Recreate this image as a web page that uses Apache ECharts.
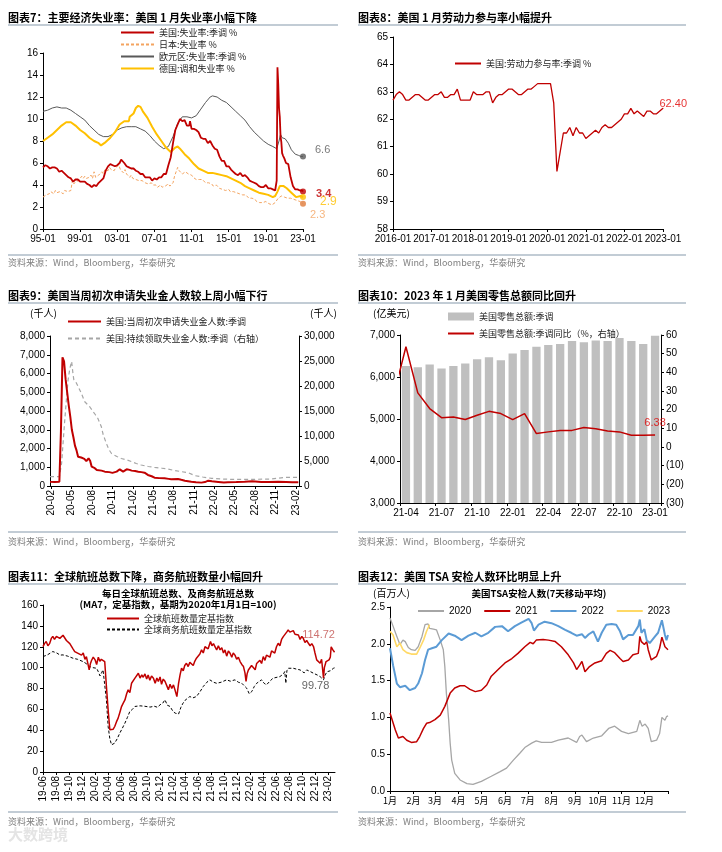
<!DOCTYPE html>
<html><head><meta charset="utf-8">
<script src="https://cdn.jsdelivr.net/npm/echarts@6/dist/echarts.min.js"></script>
<style>html,body{margin:0;padding:0;background:#fff}#c{width:722px;height:852px}</style>
</head><body><div id="c"></div>
<script>
// ---------------- Fig 7: unemployment rates ----------------
const fig7XLabels = ['95-01','99-01','03-01','07-01','11-01','15-01','19-01','23-01'];
const unemployUS = [['1995-01',5.6],['1995-04',5.8],['1995-07',5.7],['1995-10',5.5],['1996-01',5.6],['1996-04',5.6],['1996-07',5.5],['1996-10',5.2],['1997-01',5.3],['1997-04',5.1],['1997-07',4.9],['1997-10',4.7],['1998-01',4.6],['1998-04',4.3],['1998-07',4.5],['1998-10',4.5],['1999-01',4.3],['1999-04',4.3],['1999-07',4.3],['1999-10',4.1],['2000-01',4.0],['2000-04',3.8],['2000-07',4.0],['2000-10',3.9],['2001-01',4.2],['2001-04',4.4],['2001-07',4.6],['2001-10',5.3],['2002-01',5.7],['2002-04',5.9],['2002-07',5.8],['2002-10',5.7],['2003-01',5.8],['2003-04',6.0],['2003-06',6.3],['2003-07',6.2],['2003-10',6.0],['2004-01',5.7],['2004-04',5.6],['2004-07',5.5],['2004-10',5.5],['2005-01',5.3],['2005-04',5.2],['2005-07',5.0],['2005-10',5.0],['2006-01',4.7],['2006-04',4.7],['2006-07',4.7],['2006-10',4.4],['2007-01',4.6],['2007-04',4.5],['2007-07',4.7],['2007-10',4.7],['2008-01',5.0],['2008-04',5.0],['2008-07',5.8],['2008-10',6.5],['2009-01',7.8],['2009-04',9.0],['2009-07',9.5],['2009-10',10.0],['2010-01',9.8],['2010-04',9.9],['2010-07',9.4],['2010-10',9.4],['2010-11',9.8],['2011-01',9.1],['2011-04',9.1],['2011-07',9.0],['2011-10',8.8],['2012-01',8.3],['2012-04',8.2],['2012-07',8.2],['2012-10',7.8],['2013-01',8.0],['2013-04',7.6],['2013-07',7.3],['2013-10',7.2],['2014-01',6.6],['2014-04',6.2],['2014-07',6.2],['2014-10',5.7],['2015-01',5.7],['2015-04',5.4],['2015-07',5.2],['2015-10',5.0],['2016-01',4.9],['2016-04',5.1],['2016-07',4.8],['2016-10',4.9],['2017-01',4.7],['2017-04',4.4],['2017-07',4.3],['2017-10',4.2],['2018-01',4.1],['2018-04',3.9],['2018-07',3.8],['2018-10',3.8],['2019-01',4.0],['2019-04',3.7],['2019-07',3.7],['2019-10',3.6],['2020-01',3.5],['2020-02',3.5],['2020-03',4.4],['2020-04',14.7],['2020-05',13.2],['2020-06',11.0],['2020-07',10.2],['2020-08',8.4],['2020-09',7.9],['2020-10',6.9],['2020-11',6.7],['2020-12',6.7],['2021-01',6.4],['2021-03',6.0],['2021-06',5.9],['2021-09',4.7],['2021-12',3.9],['2022-03',3.6],['2022-06',3.6],['2022-09',3.5],['2022-12',3.5],['2023-01',3.4]];
const unemployJP = [['1995-01',2.9],['1995-03',3.0],['1995-05',3.1],['1995-07',3.2],['1995-09',3.2],['1995-11',3.4],['1996-01',3.3],['1996-03',3.2],['1996-05',3.5],['1996-07',3.3],['1996-09',3.2],['1996-11',3.4],['1997-01',3.3],['1997-03',3.2],['1997-05',3.5],['1997-07',3.4],['1997-09',3.4],['1997-11',3.5],['1998-01',3.5],['1998-03',4.4],['1998-05',4.1],['1998-07',4.3],['1998-09',4.3],['1998-11',4.4],['1999-01',4.5],['1999-03',4.8],['1999-05',4.6],['1999-07',4.8],['1999-09',4.6],['1999-11',4.6],['2000-01',4.7],['2000-03',4.9],['2000-05',4.6],['2000-07',5.2],['2000-09',4.7],['2000-11',4.8],['2001-01',4.9],['2001-03',4.8],['2001-05',5.2],['2001-07',5.0],['2001-09',5.4],['2001-11',5.4],['2002-01',5.3],['2002-03',5.6],['2002-05',5.4],['2002-07',5.5],['2002-09',5.3],['2002-11',5.6],['2003-01',5.5],['2003-03',5.8],['2003-05',5.4],['2003-07',5.3],['2003-09',5.1],['2003-11',5.4],['2004-01',5.0],['2004-03',4.9],['2004-05',4.7],['2004-07',4.9],['2004-09',4.6],['2004-11',4.6],['2005-01',4.5],['2005-03',4.6],['2005-05',4.4],['2005-07',4.3],['2005-09',4.4],['2005-11',4.5],['2006-01',4.2],['2006-03',4.3],['2006-05',4.1],['2006-07',4.1],['2006-09',4.2],['2006-11',4.0],['2007-01',4.0],['2007-03',4.0],['2007-05',3.8],['2007-07',3.7],['2007-09',4.0],['2007-11',3.8],['2008-01',3.9],['2008-03',3.9],['2008-05',4.0],['2008-07',4.1],['2008-09',3.9],['2008-11',4.0],['2009-01',4.2],['2009-03',4.8],['2009-05',5.2],['2009-07',5.6],['2009-09',5.3],['2009-11',5.2],['2010-01',5.0],['2010-03',5.1],['2010-05',5.2],['2010-07',5.1],['2010-09',5.0],['2010-11',5.0],['2011-01',4.9],['2011-03',4.7],['2011-05',4.6],['2011-07',4.5],['2011-09',4.4],['2011-11',4.5],['2012-01',4.6],['2012-03',4.5],['2012-05',4.4],['2012-07',4.2],['2012-09',4.3],['2012-11',4.2],['2013-01',4.2],['2013-03',4.1],['2013-05',3.9],['2013-07',3.8],['2013-09',4.0],['2013-11',3.9],['2014-01',3.7],['2014-03',3.6],['2014-05',3.6],['2014-07',3.7],['2014-09',3.5],['2014-11',3.5],['2015-01',3.6],['2015-03',3.4],['2015-05',3.3],['2015-07',3.4],['2015-09',3.3],['2015-11',3.3],['2016-01',3.2],['2016-03',3.2],['2016-05',3.1],['2016-07',3.1],['2016-09',3.0],['2016-11',3.1],['2017-01',3.0],['2017-03',2.8],['2017-05',2.9],['2017-07',2.8],['2017-09',2.8],['2017-11',2.7],['2018-01',2.5],['2018-03',2.5],['2018-05',2.4],['2018-07',2.5],['2018-09',2.4],['2018-11',2.5],['2019-01',2.5],['2019-03',2.4],['2019-05',2.3],['2019-07',2.3],['2019-09',2.2],['2019-11',2.3],['2020-01',2.4],['2020-03',2.5],['2020-05',2.8],['2020-07',2.9],['2020-09',3.0],['2020-11',3.0],['2021-01',2.9],['2021-03',2.8],['2021-05',2.8],['2021-07',2.8],['2021-09',2.8],['2021-11',2.7],['2022-01',2.7],['2022-03',2.6],['2022-05',2.6],['2022-07',2.5],['2022-09',2.5],['2022-11',2.5],['2023-01',2.3]];
const unemployEZ = [['1995-01',10.7],['1995-07',10.8],['1996-01',11.0],['1996-07',11.1],['1997-01',11.0],['1997-07',11.0],['1998-01',10.8],['1998-07',10.5],['1999-01',10.2],['1999-07',9.9],['2000-01',9.4],['2000-07',9.0],['2001-01',8.6],['2001-07',8.4],['2002-01',8.4],['2002-07',8.6],['2003-01',9.0],['2003-07',9.2],['2004-01',9.3],['2004-07',9.3],['2005-01',9.3],['2005-07',9.1],['2006-01',8.9],['2006-07',8.5],['2007-01',8.0],['2007-07',7.6],['2008-01',7.3],['2008-07',7.5],['2009-01',8.4],['2009-07',9.6],['2010-01',10.2],['2010-07',10.2],['2011-01',10.1],['2011-07',10.3],['2012-01',10.9],['2012-07',11.5],['2013-01',12.0],['2013-04',12.1],['2013-10',12.0],['2014-04',11.7],['2014-10',11.5],['2015-04',11.1],['2015-10',10.7],['2016-04',10.3],['2016-10',9.9],['2017-04',9.3],['2017-10',8.8],['2018-04',8.4],['2018-10',8.0],['2019-04',7.7],['2019-10',7.5],['2020-03',7.3],['2020-06',8.0],['2020-08',8.6],['2020-10',8.3],['2021-02',8.2],['2021-06',7.8],['2021-10',7.2],['2022-03',6.8],['2022-07',6.7],['2022-10',6.6],['2023-01',6.6]];
const unemployDE = [['1995-01',8.0],['1995-07',8.3],['1996-01',8.6],['1996-07',9.0],['1997-01',9.4],['1997-07',9.7],['1998-01',9.7],['1998-07',9.4],['1999-01',9.0],['1999-07',8.7],['2000-01',8.3],['2000-07',8.0],['2001-01',7.8],['2001-04',7.6],['2001-10',7.9],['2002-04',8.3],['2002-10',8.8],['2003-04',9.5],['2003-10',9.8],['2004-04',9.8],['2004-05',10.2],['2004-10',10.5],['2005-01',11.0],['2005-04',11.2],['2005-07',11.1],['2005-10',10.7],['2006-04',10.1],['2006-10',9.3],['2007-04',8.6],['2007-10',8.0],['2008-04',7.4],['2008-10',7.0],['2009-04',7.4],['2009-07',7.5],['2009-10',7.3],['2010-04',6.8],['2010-10',6.4],['2011-04',5.9],['2011-10',5.5],['2012-04',5.3],['2012-10',5.1],['2013-04',5.1],['2013-10',5.0],['2014-04',4.9],['2014-10',4.8],['2015-04',4.6],['2015-10',4.4],['2016-04',4.2],['2016-10',3.9],['2017-04',3.7],['2017-10',3.5],['2018-04',3.3],['2018-10',3.2],['2019-04',3.1],['2019-10',2.9],['2020-01',3.0],['2020-04',3.4],['2020-07',3.9],['2020-12',3.9],['2021-04',3.7],['2021-10',3.3],['2022-04',2.9],['2022-10',3.0],['2023-01',2.9]];

// ---------------- Fig 8: labour force participation ----------------
const lfprStart = [2016, 1];
const lfprValues = [62.7,62.9,63.0,62.9,62.7,62.7,62.8,62.9,62.9,62.8,62.7,62.7,
 62.8,62.9,62.9,63.0,62.8,62.8,62.9,62.9,63.1,62.7,62.7,62.7,
 62.7,63.0,62.9,62.9,62.9,63.0,63.0,62.6,62.8,62.9,62.9,63.0,
 63.1,63.1,63.0,62.9,62.9,63.0,63.1,63.1,63.2,63.3,63.3,63.3,
 63.3,63.3,62.6,60.1,60.8,61.5,61.5,61.7,61.4,61.7,61.5,61.5,
 61.3,61.4,61.5,61.6,61.5,61.7,61.8,61.7,61.7,61.8,61.9,62.0,
 62.2,62.2,62.4,62.2,62.3,62.2,62.1,62.3,62.3,62.2,62.2,62.3,
 62.4];

// ---------------- Fig 9: jobless claims ----------------
const fig9Ticks = ['2020-02-01','2020-05-01','2020-08-01','2020-11-01','2021-02-01','2021-05-01','2021-08-01','2021-11-01','2022-02-01','2022-05-01','2022-08-01','2022-11-01','2023-02-01'];
const claimsInitial = [['2020-01-25',220],['2020-02-15',215],['2020-03-07',225],['2020-03-14',2900],['2020-03-21',6860],['2020-03-28',6650],['2020-04-04',5700],['2020-04-11',5000],['2020-04-18',4300],['2020-04-25',3700],['2020-05-02',3000],['2020-05-09',2600],['2020-05-16',2150],['2020-05-23',1900],['2020-05-30',1560],['2020-06-13',1520],['2020-06-27',1450],['2020-07-06',1330],['2020-07-16',1475],['2020-07-23',1350],['2020-07-30',1030],['2020-08-06',1120],['2020-08-13',950],['2020-08-22',850],['2020-09-12',820],['2020-09-27',765],['2020-10-17',740],['2020-10-31',700],['2020-11-19',765],['2020-12-03',890],['2020-12-18',765],['2021-01-03',890],['2021-01-16',860],['2021-01-25',820],['2021-02-10',800],['2021-02-24',765],['2021-03-10',740],['2021-03-24',710],['2021-04-08',590],['2021-04-25',520],['2021-05-08',445],['2021-05-29',420],['2021-06-22',410],['2021-07-10',380],['2021-07-22',355],['2021-08-21',373],['2021-09-05',330],['2021-09-21',285],['2021-10-20',230],['2021-11-10',200],['2021-12-04',180],['2021-12-20',210],['2022-01-04',285],['2022-01-20',250],['2022-02-18',215],['2022-03-15',185],['2022-04-02',195],['2022-05-10',210],['2022-06-16',230],['2022-07-20',250],['2022-08-30',215],['2022-10-05',210],['2022-11-13',230],['2022-12-20',215],['2023-01-15',195],['2023-02-12',195]];
const claimsContinuing = [['2020-01-25',1870],['2020-03-07',1870],['2020-03-14',2100],['2020-03-17',4500],['2020-03-30',12500],['2020-04-08',17500],['2020-04-15',21200],['2020-04-23',23500],['2020-05-01',24900],['2020-05-07',22500],['2020-05-11',21200],['2020-05-20',20800],['2020-05-30',19900],['2020-06-14',18500],['2020-06-28',16900],['2020-07-13',16200],['2020-07-22',15800],['2020-08-05',14900],['2020-08-15',14300],['2020-08-27',13500],['2020-09-11',11900],['2020-09-20',10200],['2020-10-04',8500],['2020-10-15',7300],['2020-10-27',6500],['2020-11-20',5900],['2020-12-10',5500],['2021-01-05',5200],['2021-01-25',4870],['2021-02-15',4500],['2021-03-09',4200],['2021-04-10',3900],['2021-05-08',3730],['2021-06-10',3550],['2021-07-07',3400],['2021-08-05',3100],['2021-09-06',2870],['2021-10-05',2670],['2021-11-05',2070],['2021-12-10',1800],['2022-01-19',1530],['2022-03-01',1400],['2022-04-17',1330],['2022-07-16',1330],['2022-10-14',1400],['2022-12-13',1730],['2023-02-12',1730]];

// ---------------- Fig 10: retail sales ----------------
const retailMonths = ['21-04','21-05','21-06','21-07','21-08','21-09','21-10','21-11','21-12','22-01','22-02','22-03','22-04','22-05','22-06','22-07','22-08','22-09','22-10','22-11','22-12','23-01'];
const retailSales = [6260,6230,6300,6200,6260,6320,6420,6470,6400,6560,6640,6720,6760,6785,6860,6825,6870,6860,6930,6860,6785,6985];
// YoY starts one month earlier (2021-03); that first point is clipped by the axis
const retailYoy = [28.5,53.7,29.0,20.6,15.7,16.1,14.7,17.0,19.1,17.9,14.7,17.9,7.2,8.1,8.9,8.9,10.4,9.8,8.6,8.1,6.3,6.3,6.38];

// ---------------- Fig 11: flights ----------------
const fig11Ticks = ['2019-06-01','2019-08-01','2019-10-01','2019-12-01','2020-02-01','2020-04-01','2020-06-01','2020-08-01','2020-10-01','2020-12-01','2021-02-01','2021-04-01','2021-06-01','2021-08-01','2021-10-01','2021-12-01','2022-02-01','2022-04-01','2022-06-01','2022-08-01','2022-10-01','2022-12-01','2023-02-01'];
const flightsAll = [['2019-06-01',120.2],['2019-06-08',123],['2019-06-16',125],['2019-06-24',121],['2019-07-02',123],['2019-07-10',128],['2019-07-17',130],['2019-07-25',127],['2019-08-03',130],['2019-08-11',131],['2019-08-19',128],['2019-08-26',127],['2019-09-03',131],['2019-09-11',129.7],['2019-09-19',126],['2019-09-27',125],['2019-10-05',123],['2019-10-12',122],['2019-10-20',118],['2019-10-28',115.4],['2019-11-05',116],['2019-11-13',113.7],['2019-11-21',112],['2019-11-29',112],['2019-12-07',114],['2019-12-15',108],['2019-12-22',110.6],['2019-12-29',112],['2020-01-04',97.8],['2020-01-10',104],['2020-01-15',106.8],['2020-01-23',110],['2020-02-01',107.4],['2020-02-08',103],['2020-02-16',110],['2020-02-23',106],['2020-03-01',108],['2020-03-09',108.9],['2020-03-17',105.8],['2020-03-25',81.9],['2020-04-02',59.6],['2020-04-10',40.5],['2020-04-18',38.9],['2020-04-26',41],['2020-05-03',43.6],['2020-05-11',48],['2020-05-19',51.6],['2020-05-27',57],['2020-06-04',62.7],['2020-06-12',66],['2020-06-20',69],['2020-06-28',75],['2020-07-05',78.7],['2020-07-13',76],['2020-07-21',85],['2020-07-29',84],['2020-08-06',89.9],['2020-08-14',88],['2020-08-22',94.6],['2020-08-30',90],['2020-09-07',93],['2020-09-14',90.8],['2020-09-22',94],['2020-09-30',89],['2020-10-07',93],['2020-10-15',88],['2020-10-23',92],['2020-11-01',89.9],['2020-11-09',85],['2020-11-17',90],['2020-11-24',86.7],['2020-12-02',91],['2020-12-09',84],['2020-12-17',89],['2020-12-25',87],['2021-01-02',83],['2021-01-10',78.7],['2021-01-18',84],['2021-01-26',80],['2021-02-03',83.5],['2021-02-11',78],['2021-02-19',72.3],['2021-02-27',85],['2021-03-06',93],['2021-03-13',99.4],['2021-03-21',97],['2021-03-28',102],['2021-04-05',104.2],['2021-04-13',101],['2021-04-21',105],['2021-04-29',104.2],['2021-05-07',102],['2021-05-14',106],['2021-05-22',109],['2021-05-30',108],['2021-06-07',113],['2021-06-15',117],['2021-06-23',114],['2021-07-01',120],['2021-07-08',120.2],['2021-07-16',118],['2021-07-22',122],['2021-07-27',125],['2021-08-03',121],['2021-08-10',123],['2021-08-17',120.2],['2021-08-25',117],['2021-09-02',121],['2021-09-10',117],['2021-09-18',119],['2021-09-26',114],['2021-10-03',117],['2021-10-11',111],['2021-10-19',116],['2021-10-27',113.8],['2021-11-04',110],['2021-11-11',114],['2021-11-19',112],['2021-11-27',108],['2021-12-05',110],['2021-12-13',105.8],['2021-12-21',103],['2021-12-29',101],['2022-01-05',95],['2022-01-10',86.7],['2022-01-15',94],['2022-01-21',97.7],['2022-01-28',96],['2022-02-05',102],['2022-02-14',101],['2022-02-22',98],['2022-03-01',104],['2022-03-08',102.5],['2022-03-16',107],['2022-03-24',104],['2022-04-01',110.6],['2022-04-09',107],['2022-04-16',112],['2022-04-24',113.8],['2022-05-02',110],['2022-05-10',116],['2022-05-17',117],['2022-05-25',114],['2022-06-02',120],['2022-06-10',123.3],['2022-06-18',121],['2022-06-26',127],['2022-07-04',129.7],['2022-07-12',131],['2022-07-20',134],['2022-07-27',136],['2022-08-04',134],['2022-08-12',135],['2022-08-20',135.4],['2022-08-28',132],['2022-09-05',133],['2022-09-13',131.2],['2022-09-21',127],['2022-09-29',130],['2022-10-06',128],['2022-10-14',124],['2022-10-22',126],['2022-10-30',123.3],['2022-11-07',121],['2022-11-15',123],['2022-11-23',120.2],['2022-11-30',114],['2022-12-08',107.4],['2022-12-16',109],['2022-12-24',104.2],['2022-12-31',108],['2023-01-05',98],['2023-01-09',90],['2023-01-13',100],['2023-01-21',105.8],['2023-01-28',106],['2023-02-04',107.4],['2023-02-10',110],['2023-02-14',120],['2023-02-22',117],['2023-03-02',114.72]];
const flightsBiz = [['2019-06-01',110.6],['2019-06-20',112],['2019-07-17',115.4],['2019-08-05',114],['2019-08-20',112],['2019-09-03',112.2],['2019-09-25',111],['2019-10-20',109],['2019-11-10',108],['2019-12-06',105.8],['2019-12-20',104],['2020-01-07',101],['2020-01-20',100],['2020-02-08',99.4],['2020-02-16',96],['2020-02-24',92],['2020-03-02',95],['2020-03-09',97.8],['2020-03-17',96],['2020-03-25',69],['2020-04-02',43.6],['2020-04-10',32],['2020-04-18',26],['2020-04-25',25.5],['2020-05-03',27.7],['2020-05-15',32],['2020-05-27',37.3],['2020-06-08',42],['2020-06-20',46.9],['2020-07-01',52],['2020-07-13',58],['2020-07-25',60],['2020-08-06',62.8],['2020-08-30',63.4],['2020-09-20',63],['2020-10-16',62.2],['2020-11-05',63],['2020-11-20',62],['2020-12-02',64.4],['2020-12-15',66],['2020-12-25',69.2],['2021-01-05',64],['2021-01-18',62.8],['2021-02-01',58],['2021-02-11',56.4],['2021-02-27',55.5],['2021-03-10',62],['2021-03-20',66],['2021-04-05',70],['2021-04-21',72.3],['2021-05-05',71],['2021-05-22',72.3],['2021-06-08',77],['2021-06-23',81.9],['2021-07-10',86],['2021-07-24',88.3],['2021-08-10',86],['2021-08-25',85],['2021-09-15',86],['2021-10-11',88.3],['2021-10-28',87],['2021-11-19',88.3],['2021-12-05',86],['2021-12-21',85],['2022-01-13',80.3],['2022-01-25',75],['2022-02-06',77.1],['2022-02-18',82],['2022-03-01',85],['2022-03-24',88.3],['2022-04-05',85],['2022-04-16',83.5],['2022-05-02',87],['2022-05-17',89.9],['2022-06-18',91.4],['2022-07-05',94],['2022-07-11',96.2],['2022-07-16',85],['2022-07-21',97],['2022-07-27',99.4],['2022-08-20',99.4],['2022-09-05',98.5],['2022-09-21',97.8],['2022-10-10',95],['2022-10-22',97.8],['2022-11-10',96],['2022-11-23',94.6],['2022-12-10',93],['2022-12-24',91.4],['2023-01-09',88.3],['2023-01-17',93],['2023-01-25',96],['2023-02-10',97],['2023-02-25',99.4],['2023-03-02',99.78]];

// ---------------- Fig 12: TSA throughput (day of year, millions) ----------------
const monthLabels = ['1月','2月','3月','4月','5月','6月','7月','8月','9月','10月','11月','12月'];
const monthStarts = [0,31,59,90,120,151,181,212,243,273,304,334];
const tsa2020 = [[0,2.35],[4,2.24],[9,2.1],[13,1.99],[17,2.05],[20,2.03],[24,1.95],[28,1.92],[33,1.91],[37,1.96],[42,2.1],[46,2.26],[50,2.27],[52,2.21],[57,2.2],[61,2.19],[66,2.05],[70,1.92],[72,1.69],[74,1.33],[77,0.97],[79,0.65],[81,0.42],[85,0.24],[92,0.15],[101,0.10],[109,0.09],[120,0.13],[133,0.2],[144,0.26],[153,0.31],[162,0.42],[171,0.52],[177,0.59],[186,0.65],[192,0.68],[199,0.66],[212,0.66],[221,0.69],[234,0.72],[245,0.66],[249,0.74],[252,0.76],[258,0.67],[267,0.72],[278,0.75],[287,0.85],[295,0.88],[304,0.81],[313,0.78],[324,0.81],[328,0.96],[331,0.88],[335,0.91],[339,0.85],[343,0.67],[350,0.69],[354,0.78],[357,1.0],[361,0.96],[363,1.01],[365,1.02]];
const tsa2021 = [[0,1.06],[2,1.07],[7,0.83],[11,0.72],[17,0.74],[22,0.69],[28,0.66],[35,0.67],[39,0.74],[44,0.85],[48,0.92],[52,0.93],[59,0.97],[66,1.03],[72,1.15],[79,1.33],[85,1.40],[92,1.43],[98,1.43],[105,1.38],[112,1.35],[120,1.37],[127,1.44],[133,1.56],[142,1.65],[151,1.74],[160,1.80],[168,1.87],[177,1.96],[184,2.02],[188,2.0],[192,2.05],[201,2.06],[208,2.05],[217,2.03],[225,1.96],[234,1.85],[241,1.74],[245,1.65],[249,1.71],[252,1.76],[256,1.62],[258,1.60],[262,1.69],[269,1.74],[278,1.77],[284,1.87],[289,1.91],[295,1.88],[302,1.80],[306,1.76],[313,1.78],[319,1.85],[326,1.87],[328,2.1],[330,2.03],[334,1.99],[337,2.03],[339,1.92],[343,1.78],[350,1.83],[354,1.94],[357,2.09],[361,1.96],[365,1.92]];
const tsa2022 = [[0,1.94],[4,1.71],[9,1.46],[13,1.41],[20,1.43],[26,1.37],[33,1.40],[37,1.46],[42,1.60],[46,1.78],[50,1.92],[55,1.94],[61,1.96],[68,2.05],[77,2.14],[85,2.11],[94,2.05],[103,2.11],[112,2.15],[120,2.1],[129,2.15],[138,2.23],[147,2.24],[155,2.17],[164,2.24],[173,2.29],[182,2.34],[186,2.28],[189,2.18],[195,2.26],[203,2.30],[212,2.28],[221,2.24],[230,2.19],[238,2.15],[245,2.11],[252,2.13],[256,2.08],[261,2.13],[267,2.17],[273,2.03],[278,2.15],[284,2.26],[291,2.27],[297,2.26],[302,2.17],[306,2.06],[313,2.12],[319,2.12],[326,2.24],[328,2.33],[330,2.15],[334,2.2],[337,2.05],[341,2.01],[348,2.1],[352,2.15],[357,2.32],[361,2.12],[363,2.05],[365,2.12]];
const tsa2023 = [[0,2.17],[4,2.12],[9,1.96],[13,2.01],[17,1.92],[22,1.88],[28,1.86],[35,1.86],[39,1.94],[44,2.05],[48,2.17],[52,2.26]];

// ---------------- helpers ----------------
const FN = '"Liberation Sans", Arial, "Noto Sans CJK SC", sans-serif';
const FC = '"Noto Sans CJK SC", "Liberation Sans", sans-serif';
function ts(s){ const p = s.split('-').map(Number); return Date.UTC(p[0], p[1]-1, p[2]||1); }
function ym(s){ const p = s.split('-').map(Number); return (p[0]-1995)*12 + (p[1]-1); }
function thousands(v){ return String(v).replace(/\B(?=(\d{3})+(?!\d))/g, ','); }
function yyMM(v){ const d = new Date(v); return String(d.getUTCFullYear()).slice(2) + '-' + String(d.getUTCMonth()+1).padStart(2,'0'); }
function last(a){ return a[a.length-1]; }
function merge(a, b){
  for (const k in b){
    if (b[k] && typeof b[k]==='object' && !Array.isArray(b[k]) && a[k] && typeof a[k]==='object' && !Array.isArray(a[k])) a[k] = merge(Object.assign({}, a[k]), b[k]);
    else a[k] = b[k];
  }
  return a;
}
const grid=[], xAxis=[], yAxis=[], series=[], legend=[], graphic=[];
function axisBase(){
  return {
    axisLine:{show:true, onZero:false, lineStyle:{color:'#000', width:1}},
    axisTick:{show:true, length:3, lineStyle:{color:'#000'}},
    splitLine:{show:false},
    axisLabel:{color:'#000', fontSize:10, fontFamily:FN, margin:5},
    axisPointer:{show:false}
  };
}
function addGrid(g){ grid.push(Object.assign({containLabel:false, outerBoundsMode:'none'}, g)); return grid.length-1; }
function addX(o){ xAxis.push(merge(axisBase(), o)); return xAxis.length-1; }
function addY(o){ yAxis.push(merge(axisBase(), o)); return yAxis.length-1; }
function text(x, y, str, o){
  o = o || {};
  graphic.push({type:'text', x:x, y:y, silent:true, z:100,
    style:{text:str, fill:o.color||'#000', font:o.font||('11px '+FC), textAlign:o.align||'left', textVerticalAlign:'middle'}});
}
function hline(x1, x2, y, color){
  graphic.push({type:'line', silent:true, z:100, shape:{x1:x1, y1:y, x2:x2, y2:y}, style:{stroke:color||'#8599ab', lineWidth:1}});
}
// legend items show the line only (symbol hidden)
function legendBox(o){
  legend.push(merge({orient:'vertical', padding:0, itemWidth:33, itemHeight:10, itemGap:3, selectedMode:false,
    itemStyle:{opacity:0},
    textStyle:{fontSize:9, color:'#222', fontFamily:FC}}, o));
}

// ---------------- panel frames ----------------
const SRC = '资料来源：Wind，Bloomberg，华泰研究';
const frames = [
  {t:'图表7：主要经济失业率：美国 1 月失业率小幅下降', x:8, x2:338, ty:18, ly:25, sy:255, st:263},
  {t:'图表8：美国 1 月劳动力参与率小幅提升', x:358, x2:686, ty:18, ly:25, sy:255, st:263},
  {t:'图表9：美国当周初次申请失业金人数较上周小幅下行', x:8, x2:338, ty:296, ly:303, sy:532, st:542},
  {t:'图表10：2023 年 1 月美国零售总额同比回升', x:358, x2:686, ty:296, ly:303, sy:532, st:542},
  {t:'图表11：全球航班总数下降，商务航班数量小幅回升', x:8, x2:338, ty:577, ly:584, sy:812, st:822},
  {t:'图表12：美国 TSA 安检人数环比明显上升', x:358, x2:686, ty:577, ly:584, sy:812, st:822}
];
frames.forEach(f => {
  text(f.x, f.ty, f.t, {font:'bold 11px '+FC});
  hline(f.x, f.x2, f.ly);
  hline(f.x, f.x2, f.sy);
  text(f.x, f.st, SRC, {font:'9px '+FC, color:'#7f7f7f'});
});
text(8, 834, '大数跨境', {font:'bold 15px '+FC, color:'#e4e4e4'});

// ---------------- Panel 1 ----------------
(function(){
  const g = addGrid({left:43, top:53, width:260, height:176});
  const xi = addX({gridIndex:g, type:'value', min:0, max:336, interval:48,
    axisLabel:{formatter: v => fig7XLabels[Math.round(v/48)]}});
  const yi = addY({gridIndex:g, type:'value', min:0, max:16, interval:2});
  const defs = [
    {name:'美国:失业率:季调 %', data:unemployUS, ls:{color:'#c00000', width:1.8}, z:6},
    {name:'日本:失业率 %', data:unemployJP, ls:{color:'#f4a460', width:1, type:[3,2]}, z:3},
    {name:'欧元区:失业率:季调 %', data:unemployEZ, ls:{color:'#595959', width:1}, z:4},
    {name:'德国:调和失业率 %', data:unemployDE, ls:{color:'#ffc000', width:2}, z:5}
  ];
  defs.forEach(d => series.push({type:'line', name:d.name, xAxisIndex:xi, yAxisIndex:yi, symbol:'none', z:d.z,
    lineStyle:d.ls, itemStyle:{color:d.ls.color}, data:d.data.map(p => [ym(p[0]), p[1]])}));
  const ends = [
    {arr:unemployEZ, dot:'#595959', lc:'#595959', fs:11, fw:'normal', dist:9, dy:-6},
    {arr:unemployUS, dot:'#c00000', lc:'#c00000', fs:11, fw:'bold', dist:10, dy:2},
    {arr:unemployDE, dot:'#ffc000', lc:'#ffc000', fs:12, fw:'normal', dist:14, dy:5},
    {arr:unemployJP, dot:'#e07b39', lc:'#f4a460', fs:11, fw:'normal', dist:4, dy:11}
  ];
  ends.forEach((e, i) => {
    const p = last(e.arr);
    series.push({type:'scatter', name:'_p1end'+i, xAxisIndex:xi, yAxisIndex:yi, symbolSize:6, z:10,
      itemStyle:{color:e.dot}, data:[[ym(p[0]), p[1]]],
      label:{show:true, position:'right', distance:e.dist, offset:[0, e.dy], formatter: q => String(q.value[1]),
        color:e.lc, fontSize:e.fs, fontWeight:e.fw, fontFamily:FN}});
  });
  legendBox({left:120, top:28, data:defs.map(d => d.name)});
})();

// ---------------- Panel 2 ----------------
(function(){
  const months = [];
  for (let i = 0; i < lfprValues.length; i++){
    const m = lfprStart[1]-1+i; const y = lfprStart[0] + Math.floor(m/12);
    months.push(y + '-' + String(m%12+1).padStart(2,'0'));
  }
  const g = addGrid({left:393, top:37, width:270, height:192});
  const xi = addX({gridIndex:g, type:'category', data:months, boundaryGap:false,
    axisLabel:{interval:11}, axisTick:{interval:11}});
  const yi = addY({gridIndex:g, type:'value', min:58, max:65, interval:1});
  series.push({type:'line', name:'美国:劳动力参与率:季调 %', xAxisIndex:xi, yAxisIndex:yi, symbol:'none',
    lineStyle:{color:'#c00000', width:1.3}, itemStyle:{color:'#c00000'}, data:lfprValues});
  series.push({type:'scatter', name:'_p2end', xAxisIndex:xi, yAxisIndex:yi, symbolSize:1, itemStyle:{color:'#c00000'},
    data:[[last(months), last(lfprValues)]],
    label:{show:true, position:'right', distance:0, offset:[-4,-4], formatter: q => Number(q.value[1]).toFixed(2),
      color:'#e00000', fontSize:11, fontFamily:FN}});
  legendBox({left:454, top:59, itemWidth:26, data:['美国:劳动力参与率:季调 %']});
})();

// ---------------- Panel 3 ----------------
(function(){
  const g = addGrid({left:50, top:336, width:249, height:150});
  const ticks = fig9Ticks.map(ts);
  const xi = addX({gridIndex:g, type:'value', min:ts('2020-01-25'), max:ts('2023-02-15'),
    axisLabel:{customValues:ticks, rotate:90, formatter:yyMM, margin:4}, axisTick:{customValues:ticks}});
  const yl = addY({gridIndex:g, type:'value', min:0, max:8000, interval:1000, axisLabel:{formatter:thousands}});
  const yr = addY({gridIndex:g, type:'value', position:'right', min:0, max:30000, interval:5000, axisLabel:{formatter:thousands}});
  series.push({type:'line', name:'美国:当周初次申请失业金人数:季调', xAxisIndex:xi, yAxisIndex:yl, symbol:'none', z:5,
    lineStyle:{color:'#c00000', width:2}, itemStyle:{color:'#c00000'}, data:claimsInitial.map(p => [ts(p[0]), p[1]])});
  series.push({type:'line', name:'美国:持续领取失业金人数:季调（右轴）', xAxisIndex:xi, yAxisIndex:yr, symbol:'none', z:4,
    lineStyle:{color:'#a6a6a6', width:1.2, type:[4,3]}, itemStyle:{color:'#a6a6a6'}, data:claimsContinuing.map(p => [ts(p[0]), p[1]])});
  text(30, 313, '(千人)', {font:'10px '+FC});
  text(310, 313, '(千人)', {font:'10px '+FC});
  legendBox({left:67, top:317, itemGap:8, data:['美国:当周初次申请失业金人数:季调','美国:持续领取失业金人数:季调（右轴）']});
})();

// ---------------- Panel 4 ----------------
(function(){
  const g = addGrid({left:400, top:335, width:261, height:168});
  const xc = addX({gridIndex:g, type:'category', data:retailMonths, boundaryGap:true,
    axisLabel:{interval:2}, axisTick:{interval:2, alignWithLabel:false}});
  const xv = addX({gridIndex:g, type:'value', min:-0.5, max:21.5, show:false});
  const yl = addY({gridIndex:g, type:'value', min:3000, max:7000, interval:1000, axisLabel:{formatter:thousands}});
  const yr = addY({gridIndex:g, type:'value', position:'right', min:-30, max:60, interval:10,
    axisLabel:{formatter: v => v < 0 ? '(' + (-v) + ')' : String(v)}});
  series.push({type:'bar', name:'美国零售总额:季调', xAxisIndex:xc, yAxisIndex:yl, barWidth:'70%',
    itemStyle:{color:'#bfbfbf'}, data:retailSales});
  series.push({type:'line', name:'美国零售总额:季调同比（%，右轴）', xAxisIndex:xv, yAxisIndex:yr, symbol:'none', clip:true, z:5,
    lineStyle:{color:'#c00000', width:1.5}, itemStyle:{color:'#c00000'}, data:retailYoy.map((v, i) => [i-1, v])});
  series.push({type:'scatter', name:'_p4end', xAxisIndex:xv, yAxisIndex:yr, symbolSize:1, itemStyle:{color:'rgba(0,0,0,0)'},
    data:[[retailYoy.length-2, last(retailYoy)]],
    label:{show:true, position:'top', distance:6, formatter: q => String(q.value[1]), color:'#e00000', fontSize:11, fontFamily:FN}});
  text(373, 313, '(亿美元)', {font:'10px '+FC});
  legendBox({left:447, top:312, itemWidth:26, itemHeight:8, itemGap:8,
    data:[{name:'美国零售总额:季调', icon:'rect', itemStyle:{opacity:1}}, {name:'美国零售总额:季调同比（%，右轴）'}]});
})();

// ---------------- Panel 5 ----------------
(function(){
  const g = addGrid({left:43, top:605, width:292, height:167});
  const ticks = fig11Ticks.map(ts);
  const xi = addX({gridIndex:g, type:'value', min:ts('2019-06-01'), max:ts('2023-03-04'),
    axisLabel:{customValues:ticks, rotate:90, formatter:yyMM, margin:4}, axisTick:{customValues:ticks}});
  const yi = addY({gridIndex:g, type:'value', min:0, max:160, interval:20});
  series.push({type:'line', name:'全球航班数量定基指数', xAxisIndex:xi, yAxisIndex:yi, symbol:'none', z:5,
    lineStyle:{color:'#c00000', width:1.5}, itemStyle:{color:'#c00000'}, data:flightsAll.map(p => [ts(p[0]), p[1]])});
  series.push({type:'line', name:'全球商务航班数量定基指数', xAxisIndex:xi, yAxisIndex:yi, symbol:'none', z:4,
    lineStyle:{color:'#000', width:1, type:[3,2]}, itemStyle:{color:'#000'}, data:flightsBiz.map(p => [ts(p[0]), p[1]])});
  const a = last(flightsAll), b = last(flightsBiz);
  series.push({type:'scatter', name:'_p5endA', xAxisIndex:xi, yAxisIndex:yi, symbolSize:1, itemStyle:{color:'rgba(0,0,0,0)'}, data:[[ts(a[0]), a[1]]],
    label:{show:true, position:'inside', offset:[-16,-17], formatter: q => Number(q.value[1]).toFixed(2), color:'#c0504d', fontSize:11, fontFamily:FN}});
  series.push({type:'scatter', name:'_p5endB', xAxisIndex:xi, yAxisIndex:yi, symbolSize:1, itemStyle:{color:'rgba(0,0,0,0)'}, data:[[ts(b[0]), b[1]]],
    label:{show:true, position:'inside', offset:[-19,18], formatter: q => Number(q.value[1]).toFixed(2), color:'#404040', fontSize:11, fontFamily:FN}});
  text(178, 593, '每日全球航班总数、及商务航班总数', {font:'bold 9.5px '+FC, align:'center'});
  text(178, 604, '(MA7，定基指数，基期为2020年1月1日=100)', {font:'bold 9.5px '+FC, align:'center'});
  legendBox({left:106, top:614, itemWidth:32, itemGap:2, data:['全球航班数量定基指数','全球商务航班数量定基指数']});
})();

// ---------------- Panel 6 ----------------
(function(){
  const g = addGrid({left:390, top:607, width:278, height:184});
  const xi = addX({gridIndex:g, type:'value', min:0, max:365,
    axisLabel:{customValues:monthStarts, formatter: v => monthLabels[monthStarts.indexOf(v)], fontFamily:FC, fontSize:9},
    axisTick:{customValues:monthStarts.concat([365])}});
  const yi = addY({gridIndex:g, type:'value', min:0, max:2.5, interval:0.5, axisLabel:{formatter: v => v.toFixed(1)}});
  const defs = [
    {name:'2020', data:tsa2020, c:'#a6a6a6', w:1.3},
    {name:'2021', data:tsa2021, c:'#c00000', w:1.5},
    {name:'2022', data:tsa2022, c:'#5b9bd5', w:2},
    {name:'2023', data:tsa2023, c:'#ffd966', w:1.6}
  ];
  defs.forEach((d, i) => series.push({type:'line', name:d.name, xAxisIndex:xi, yAxisIndex:yi, symbol:'none', z:3+i,
    lineStyle:{color:d.c, width:d.w}, itemStyle:{color:d.c}, data:d.data}));
  text(373, 593, '(百万人)', {font:'10px '+FC});
  text(539, 593, '美国TSA安检人数(7天移动平均)', {font:'bold 9.5px '+FC, align:'center'});
  legend.push({orient:'horizontal', left:417, top:606, padding:0, itemWidth:26, itemHeight:10, itemGap:12, selectedMode:false,
    itemStyle:{opacity:0},
    textStyle:{fontSize:10, color:'#000', fontFamily:FN}, data:defs.map(d => d.name)});
})();

const chart = echarts.init(document.getElementById('c'), null, {renderer:'canvas'});
chart.setOption({animation:false, backgroundColor:'#fff', grid, xAxis, yAxis, series, legend, graphic:{elements:graphic}});
</script></body></html>
